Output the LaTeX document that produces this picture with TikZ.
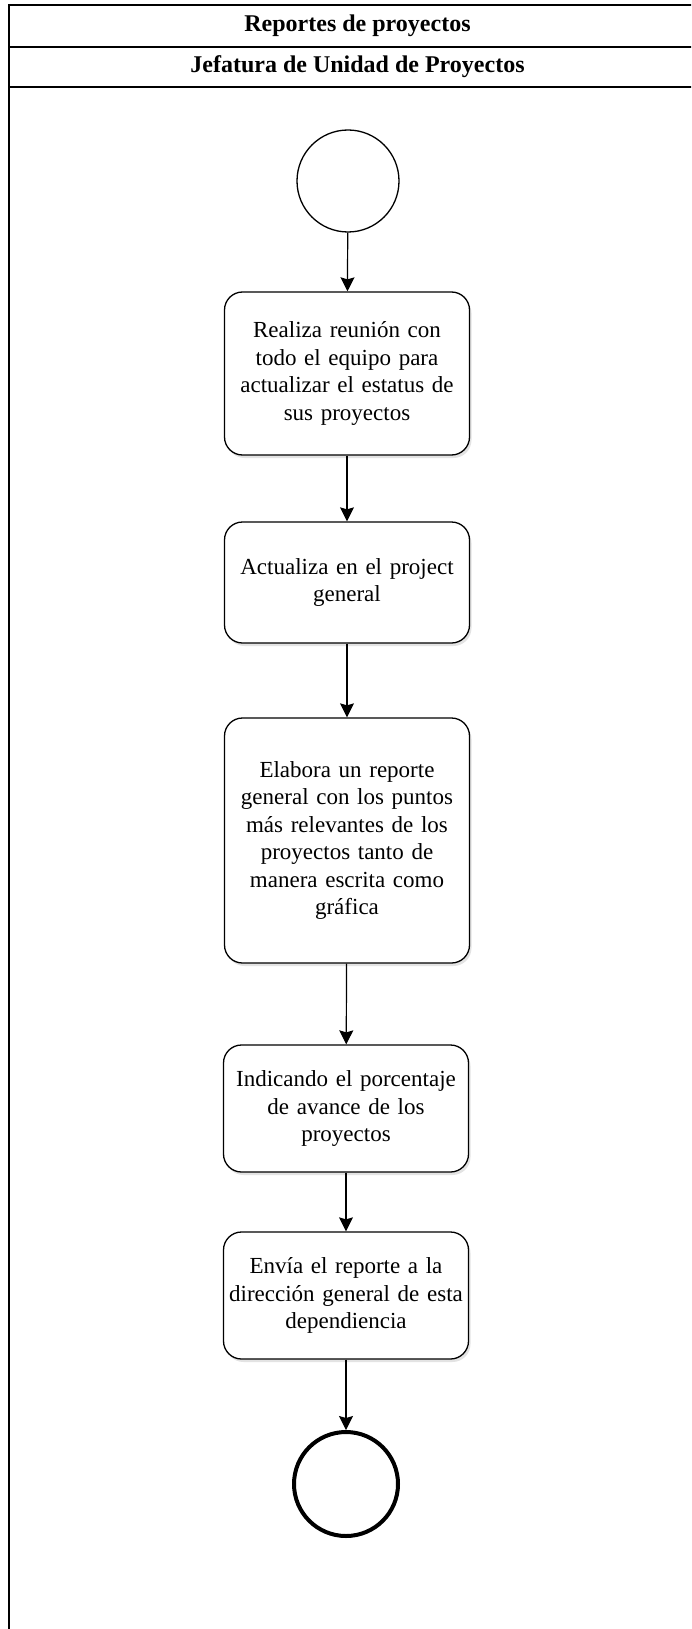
\documentclass[tikz,border=0pt]{standalone}
\usepackage{fontspec}
\setmainfont{Liberation Serif}
\usepackage{tikz}
\usetikzlibrary{arrows.meta,positioning,shadows}

\begin{document}
\begin{tikzpicture}[x=1pt,y=-1pt,
    actividad/.style={draw,line width=1.3pt,rounded corners=18pt,fill=white,
      minimum width=245pt,text width=245pt,inner sep=0pt,align=center,
      font=\fontsize{23}{27.5}\selectfont,
      drop shadow={shadow xshift=2pt,shadow yshift=-3pt,fill=black!22}},
    nodoini/.style={draw,circle,line width=1.3pt,minimum size=102pt,inner sep=0pt,fill=white},
    nodofin/.style={draw,circle,line width=4pt,minimum size=104pt,inner sep=0pt,fill=white},
    flecha/.style={-{Stealth[length=14pt,width=14pt,inset=2pt]},line width=1.2pt},
    encabezado/.style={font=\fontsize{24}{27}\selectfont\bfseries}]
  \useasboundingbox (0,0) rectangle (691,1629);
  \clip (0,0) rectangle (691,1629);
  \draw[line width=1.8pt] (9,1640) -- (9,5) -- (720,5);
  \draw[line width=1.8pt] (9,47) -- (720,47);
  \draw[line width=1.6pt] (9,87) -- (720,87);
  \node[encabezado] (titulo) at (357.5,26) {Reportes de proyectos};
  \node[encabezado] (carril) at (357.5,67) {Jefatura de Unidad de Proyectos};

  \node[nodoini] (inicio) at (348,181) {};
  \node[actividad,minimum height=163pt] (reunion) at (347,373.5)
    {Realiza reunión con\\todo el equipo para\\actualizar el estatus de\\sus proyectos};
  \node[actividad,minimum height=121pt] (project) at (347,582.5)
    {Actualiza en el project\\general};
  \node[actividad,minimum height=245pt] (reporte) at (347,840.5)
    {Elabora un reporte\\general con los puntos\\más relevantes de los\\proyectos tanto de\\manera escrita como\\gráfica};
  \node[actividad,minimum height=127pt] (avance) at (346,1108.5)
    {Indicando el porcentaje\\de avance de los\\proyectos};
  \node[actividad,minimum height=127pt] (envia) at (346,1295.5)
    {Envía el reporte a la\\dirección general de esta\\dependiencia};
  \node[nodofin] (fin) at (346,1484) {};

  \draw[flecha] (inicio) -- (reunion);
  \draw[flecha] (reunion) -- (project);
  \draw[flecha] (project) -- (reporte);
  \draw[flecha] (reporte) -- (avance);
  \draw[flecha] (avance) -- (envia);
  \draw[flecha] (envia) -- (fin);
\end{tikzpicture}
\end{document}
